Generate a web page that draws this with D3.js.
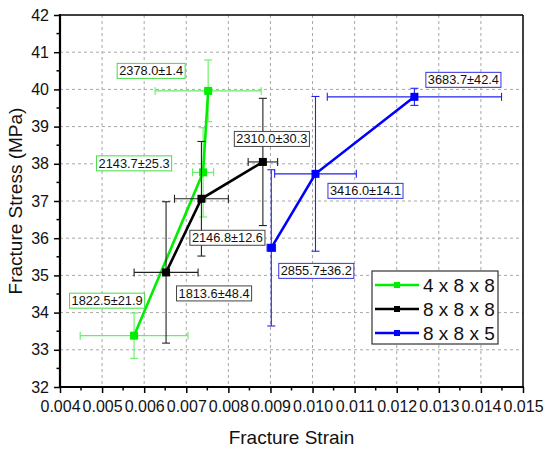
<!DOCTYPE html>
<html><head><meta charset="utf-8">
<script src="https://cdn.jsdelivr.net/npm/d3@7"></script>
<style>body{margin:0;background:#fff}svg{font-family:Arial,"Liberation Sans",sans-serif}</style>
</head><body><svg id="c" width="550" height="450"></svg>
<script>
// ---- data ----
const seriesNames = ["4 x 8 x 8", "8 x 8 x 8", "8 x 8 x 5"];
const strain4 = [0.00576, 0.00740, 0.00752];
const stress4 = [33.38, 37.77, 39.96];
const strainErr4 = [0.00128, 0.00025, 0.00126];
const stressErr4 = [0.61, 1.20, 0.83];
const labels4 = ["1822.5±21.9", "2143.7±25.3", "2378.0±1.4"];

const strain8 = [0.00652, 0.00736, 0.00882];
const stress8 = [35.08, 37.06, 38.05];
const strainErr8 = [0.00076, 0.00064, 0.00035];
const stressErr8 = [1.90, 1.54, 1.71];
const labels8 = ["1813.6±48.4", "2146.8±12.6", "2310.0±30.3"];

const strain5 = [0.00902, 0.01007, 0.01242];
const stress5 = [35.74, 37.73, 39.80];
const strainErr5 = [0.00010, 0.00097, 0.00207];
const stressErr5 = [2.10, 2.08, 0.23];
const labels5 = ["2855.7±36.2", "3416.0±14.1", "3683.7±42.4"];

const xTicks = [0.004,0.005,0.006,0.007,0.008,0.009,0.010,0.011,0.012,0.013,0.014,0.015];
const yTicks = [32,33,34,35,36,37,38,39,40,41,42];

// ---- layout / style ----
const svg = d3.select("#c");
const L = 60, R = 523, T = 15, B = 387;
const x = d3.scaleLinear().domain([0.004, 0.015]).range([L, R]);
const y = d3.scaleLinear().domain([32, 42]).range([B, T]);

const series = [
  {name: seriesNames[0], sx: strain4, sy: stress4, ex: strainErr4, ey: stressErr4, lab: labels4,
   line: "#00ee00", err: "#66ee66", box: "#44dd44",
   off: [[-27,-35],[-69,-9],[-57,-20]]},
  {name: seriesNames[1], sx: strain8, sy: stress8, ex: strainErr8, ey: stressErr8, lab: labels8,
   line: "#000000", err: "#222222", box: "#444444",
   off: [[48,21],[26,39],[9,-23]]},
  {name: seriesNames[2], sx: strain5, sy: stress5, ex: strainErr5, ey: stressErr5, lab: labels5,
   line: "#0000ff", err: "#2222ee", box: "#3333dd",
   off: [[45,23],[50,17],[49,-17]]}
];

// grid
const grid = svg.append("g");
grid.selectAll("line.gx").data(xTicks.slice(1, -1)).join("line")
  .attr("x1", d => x(d)).attr("x2", d => x(d)).attr("y1", T).attr("y2", B)
  .attr("stroke", "#a8a8a8").attr("stroke-width", 1).attr("stroke-dasharray", "3,3");
grid.selectAll("line.gy").data(yTicks.slice(1, -1)).join("line")
  .attr("y1", d => y(d)).attr("y2", d => y(d)).attr("x1", L).attr("x2", R)
  .attr("stroke", "#a8a8a8").attr("stroke-width", 1).attr("stroke-dasharray", "3,3");

// axes
const xAxis = d3.axisBottom(x).tickValues(xTicks).tickFormat(d3.format(".3f")).tickSize(6).tickPadding(7);
const yAxis = d3.axisLeft(y).tickValues(yTicks).tickFormat(d3.format("d")).tickSize(6).tickPadding(5);
const gx = svg.append("g").attr("transform", `translate(0,${B})`).call(xAxis);
const gy = svg.append("g").attr("transform", `translate(${L},0)`).call(yAxis);
[gx, gy].forEach(g => {
  g.select(".domain").remove();
  g.selectAll(".tick line").attr("stroke", "#000").attr("stroke-width", 1.5);
  g.selectAll("text").attr("font-size", 16).attr("fill", "#111");
});
gx.selectAll("text").attr("dy", "0.75em");
// minor ticks
const xm = d3.range(11).map(i => 0.0045 + i * 0.001);
const ym = d3.range(10).map(i => 32.5 + i);
svg.append("g").selectAll("line").data(xm).join("line")
  .attr("x1", d => x(d)).attr("x2", d => x(d)).attr("y1", B).attr("y2", B + 3.5)
  .attr("stroke", "#000").attr("stroke-width", 1.5);
svg.append("g").selectAll("line").data(ym).join("line")
  .attr("y1", d => y(d)).attr("y2", d => y(d)).attr("x1", L).attr("x2", L - 3.5)
  .attr("stroke", "#000").attr("stroke-width", 1.5);

// frame
svg.append("line").attr("x1", L).attr("x2", R).attr("y1", T).attr("y2", T).attr("stroke", "#000").attr("stroke-width", 1.5);
svg.append("line").attr("x1", R).attr("x2", R).attr("y1", T).attr("y2", B).attr("stroke", "#000").attr("stroke-width", 1.5);
svg.append("line").attr("x1", L).attr("x2", L).attr("y1", T - 1).attr("y2", B + 1).attr("stroke", "#000").attr("stroke-width", 2.2);
svg.append("line").attr("x1", L - 1).attr("x2", R + 1).attr("y1", B).attr("y2", B).attr("stroke", "#000").attr("stroke-width", 2.2);

// axis titles
svg.append("text").attr("x", (L + R) / 2).attr("y", 444).attr("text-anchor", "middle")
  .attr("font-size", 19).attr("fill", "#111").text("Fracture Strain");
svg.append("text").attr("transform", `translate(22,${(T + B) / 2}) rotate(-90)`).attr("text-anchor", "middle")
  .attr("font-size", 19).attr("fill", "#111").text("Fracture Stress (MPa)");

// series: error bars, lines, markers
const cap = 4;
series.forEach(s => {
  const g = svg.append("g");
  const pts = s.sx.map((v, i) => ({x: v, y: s.sy[i], ex: s.ex[i], ey: s.ey[i]}));
  pts.forEach(p => {
    const px = x(p.x), py = y(p.y);
    const x0 = x(p.x - p.ex), x1 = x(p.x + p.ex);
    const y0 = y(p.y - p.ey), y1 = y(p.y + p.ey);
    const e = g.append("g").attr("stroke", s.err).attr("stroke-width", 1.1).attr("fill", "none");
    e.append("line").attr("x1", x0).attr("x2", x1).attr("y1", py).attr("y2", py);
    e.append("line").attr("x1", x0).attr("x2", x0).attr("y1", py - cap).attr("y2", py + cap);
    e.append("line").attr("x1", x1).attr("x2", x1).attr("y1", py - cap).attr("y2", py + cap);
    e.append("line").attr("x1", px).attr("x2", px).attr("y1", y0).attr("y2", y1);
    e.append("line").attr("x1", px - cap).attr("x2", px + cap).attr("y1", y0).attr("y2", y0);
    e.append("line").attr("x1", px - cap).attr("x2", px + cap).attr("y1", y1).attr("y2", y1);
  });
  g.append("path").datum(pts)
    .attr("d", d3.line().x(d => x(d.x)).y(d => y(d.y)))
    .attr("fill", "none").attr("stroke", s.line).attr("stroke-width", 2.6);
  g.selectAll("rect").data(pts).join("rect")
    .attr("x", d => x(d.x) - 4).attr("y", d => y(d.y) - 4).attr("width", 8).attr("height", 8)
    .attr("fill", s.line);
});

// value labels
series.forEach(s => {
  s.lab.forEach((t, i) => {
    const cx = x(s.sx[i]) + s.off[i][0], cy = y(s.sy[i]) + s.off[i][1];
    const g = svg.append("g");
    const txt = g.append("text").attr("x", cx).attr("y", cy).attr("text-anchor", "middle")
      .attr("dominant-baseline", "central").attr("font-size", 12.8).attr("fill", "#111").text(t);
    const bb = txt.node().getBBox();
    g.insert("rect", "text").attr("x", bb.x - 2).attr("y", cy - 7.5).attr("width", bb.width + 4).attr("height", 15)
      .attr("fill", "#fff").attr("stroke", s.box).attr("stroke-width", 1);
  });
});

// legend
const lg = svg.append("g");
lg.append("rect").attr("x", 372).attr("y", 271).attr("width", 126).attr("height", 73)
  .attr("fill", "#fff").attr("stroke", "#333").attr("stroke-width", 1.2);
series.forEach((s, i) => {
  const ly = 285 + i * 24;
  lg.append("line").attr("x1", 375).attr("x2", 419).attr("y1", ly).attr("y2", ly)
    .attr("stroke", s.line).attr("stroke-width", 2.5);
  lg.append("rect").attr("x", 394).attr("y", ly - 3).attr("width", 6).attr("height", 6).attr("fill", s.line);
  lg.append("text").attr("x", 423).attr("y", ly).attr("dominant-baseline", "central")
    .attr("font-size", 19).attr("fill", "#111").text(s.name);
});
</script></body></html>
